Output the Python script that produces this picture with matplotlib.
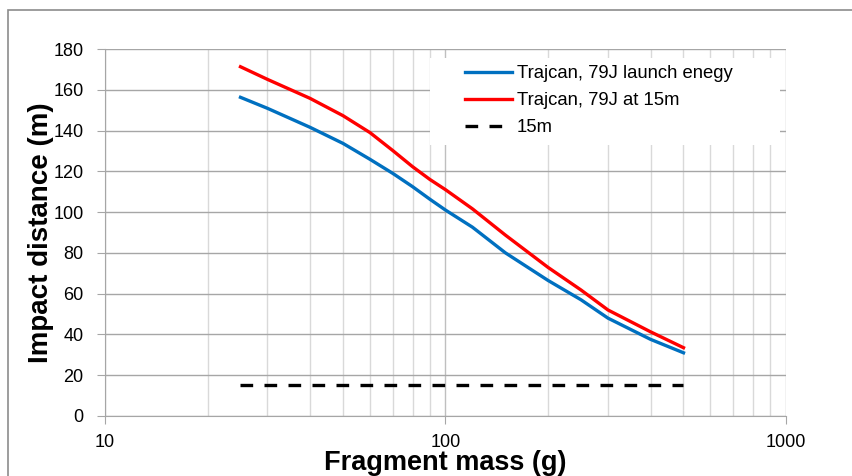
import numpy as np
import matplotlib.pyplot as plt
from matplotlib.patches import Rectangle
from matplotlib.ticker import FixedLocator, NullFormatter

# fragment mass (g)
mass = [25, 30, 40, 50, 60, 70, 80, 90, 100, 120, 150, 200, 250, 300, 400, 500]
# impact distance (m)
launch_energy = [156.3, 150.9, 141.6, 133.7, 125.9, 119.0, 112.5, 106.3, 101.0,
                 92.6, 80.0, 66.5, 57.0, 48.0, 37.6, 31.0]
at_15m = [171.3, 165.1, 155.8, 147.3, 139.0, 130.2, 122.3, 116.0, 111.0,
          101.6, 88.7, 72.9, 61.8, 52.0, 41.3, 33.5]
ref_mass = [25, 500]
ref_dist = [15, 15]

labels = ['Trajcan, 79J launch enegy', 'Trajcan, 79J at 15m', '15m']

plt.rcParams['font.family'] = ['Liberation Sans', 'DejaVu Sans']

W, H = 853, 476
fig = plt.figure(figsize=(W / 100, H / 100), dpi=100)
ax = fig.add_axes([105 / W, 1 - 416 / H, 681 / W, 367 / H])

# outer chart border (runs off the right and bottom edges)
fig.patches.append(Rectangle((8 / W, -0.1), 1.1, 1 - 10 / H + 0.1,
                             transform=fig.transFigure, fill=False,
                             edgecolor='#8c8c8c', linewidth=1.2))

ax.set_xscale('log')
ax.set_xlim(10, 1000)
ax.set_ylim(0, 180)
ax.set_yticks(np.arange(0, 181, 20))
ax.set_xticks([10, 100, 1000])
ax.set_xticklabels(['10', '100', '1000'])
minor = [v * d for d in (10, 100) for v in range(2, 10)]
ax.xaxis.set_minor_locator(FixedLocator(minor))
ax.xaxis.set_minor_formatter(NullFormatter())

ax.grid(True, axis='y', which='major', color='#a6a6a6', linewidth=1.0)
ax.grid(True, axis='x', which='major', color='#bfbfbf', linewidth=1.0)
ax.grid(True, axis='x', which='minor', color='#d9d9d9', linewidth=1.0)
ax.set_axisbelow(True)

for s in ['top', 'right']:
    ax.spines[s].set_visible(False)
for s in ['left', 'bottom']:
    ax.spines[s].set_color('#a6a6a6')
ax.tick_params(axis='both', which='major', direction='out', length=6,
               color='#a6a6a6', labelsize=13, labelcolor='#000000')
ax.tick_params(axis='y', which='major', pad=9.5)
ax.tick_params(axis='x', which='minor', length=0)
ax.tick_params(axis='x', which='major', pad=7)

# white legend background covering the grid
ax.add_patch(Rectangle((430 / W, 1 - 145 / H), 350 / W, 87 / H,
                       transform=fig.transFigure, facecolor='white',
                       edgecolor='none', zorder=1.5))

ax.plot(mass, launch_energy, color='#0070c0', linewidth=2.4, label=labels[0], zorder=3)
ax.plot(mass, at_15m, color='#ff0000', linewidth=2.4, label=labels[1], zorder=3)
ax.plot(ref_mass, ref_dist, color='black', linewidth=2.4, linestyle=(0, (3.8, 3.4)),
        label=labels[2], zorder=3)

leg = ax.legend(loc='upper left', bbox_to_anchor=(465 / W, 1 - 65 / H),
                bbox_transform=fig.transFigure, frameon=False,
                fontsize=13.3, handlelength=2.55, handletextpad=0.25,
                borderpad=0, borderaxespad=0, labelspacing=0.55)

ax.set_xlabel('Fragment mass (g)', fontsize=19.5, fontweight='bold', labelpad=-1)
ax.set_ylabel('Impact distance (m)', fontsize=20, fontweight='bold', labelpad=-0.5)

fig.savefig('out.png', dpi=100)
